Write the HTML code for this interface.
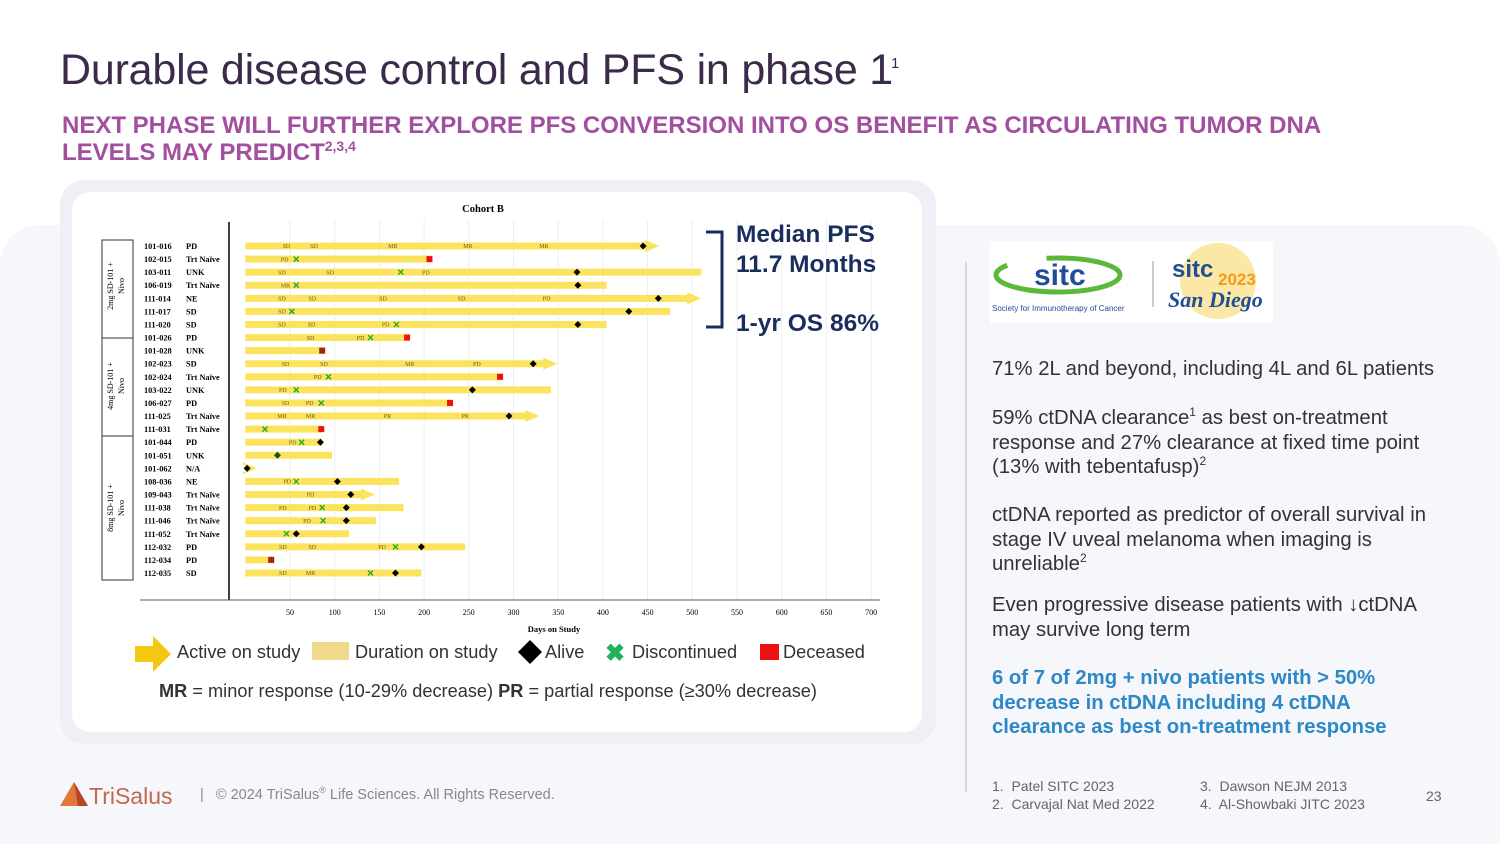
<!DOCTYPE html>
<html><head><meta charset="utf-8">
<style>
*{margin:0;padding:0;box-sizing:border-box}
body{width:1500px;height:844px;overflow:hidden;background:#fff;font-family:"Liberation Sans",Arial,sans-serif;position:relative}
.abs{position:absolute}
sup{line-height:0}
#bg{left:0;top:225px;width:1500px;height:619px;background:#f6f7fa;border-radius:40px 40px 0 0}
h1{position:absolute;left:60px;top:46px;font-size:43px;font-weight:400;color:#3b2a4a;letter-spacing:-0.2px}
h1 sup{font-size:15px;vertical-align:top;position:relative;top:18px;left:-2px}
#sub{left:62px;top:112px;font-size:24px;font-weight:700;color:#a24fa0;line-height:27px;width:1320px}
#sub sup{font-size:14px}
#outer{left:60px;top:180px;width:876px;height:564px;background:#eef0f5;border-radius:24px}
#inner{left:72px;top:192px;width:850px;height:540px;background:#fff;border-radius:18px}
.rt{left:992px;font-size:20.3px;color:#333;line-height:24.5px;width:448px}
.rt sup{font-size:12px}
#blue{color:#2d88c8;font-weight:700}
#div{left:965px;top:262px;width:2px;height:530px;background:#e3d0dc}
.ref{font-size:14px;color:#666;line-height:18px}
</style></head><body>
<div id="bg" class="abs"></div>
<h1>Durable disease control and PFS in phase 1<sup>1</sup></h1>
<div id="sub" class="abs">NEXT PHASE WILL FURTHER EXPLORE PFS CONVERSION INTO OS BENEFIT AS CIRCULATING TUMOR DNA LEVELS MAY PREDICT<sup>2,3,4</sup></div>
<div id="outer" class="abs"></div>
<div id="inner" class="abs"></div>

<svg class="abs" style="left:0;top:0" width="1500" height="844" id="chart" font-family="Liberation Serif, serif">
<text x="483" y="212" font-size="10.5" font-weight="bold" text-anchor="middle">Cohort B</text>
<g id="grid"></g><g id="marks"></g><g id="labels"></g>
<line x1="229" y1="222" x2="229" y2="600" stroke="#000" stroke-width="1.5"/>
<line x1="140" y1="600" x2="880" y2="600" stroke="#555" stroke-width="1"/>
<text x="554" y="632" font-size="8.5" font-weight="bold" text-anchor="middle">Days on Study</text>
<g fill="none" stroke="#333" stroke-width="1">
<rect x="102" y="240" width="31" height="340"/>
<line x1="102" y1="338" x2="133" y2="338"/><line x1="102" y1="436" x2="133" y2="436"/>
</g>
<text transform="translate(113,286) rotate(-90)" font-size="8" text-anchor="middle"><tspan x="0" dy="0">2mg SD-101 +</tspan><tspan x="0" dy="11">Nivo</tspan></text>
<text transform="translate(113,386) rotate(-90)" font-size="8" text-anchor="middle"><tspan x="0" dy="0">4mg SD-101 +</tspan><tspan x="0" dy="11">Nivo</tspan></text>
<text transform="translate(113,508) rotate(-90)" font-size="8" text-anchor="middle"><tspan x="0" dy="0">8mg SD-101 +</tspan><tspan x="0" dy="11">Nivo</tspan></text>
<g fill="none" stroke="#1a2e5e" stroke-width="3"><path d="M706 232 H722 V327 H706"/></g>
<text x="736" y="242" font-family="Liberation Sans, sans-serif" font-size="24.5" font-weight="bold" fill="#1a2e5e">Median PFS</text>
<text x="736" y="272" font-family="Liberation Sans, sans-serif" font-size="24.5" font-weight="bold" fill="#1a2e5e">11.7 Months</text>
<text x="736" y="331" font-family="Liberation Sans, sans-serif" font-size="24.5" font-weight="bold" fill="#1a2e5e">1-yr OS 86%</text>
<g font-family="Liberation Sans, sans-serif" font-size="18.2" fill="#333">
<path d="M135 646 H153 V636 L171 654 L153 672 V662 H135 Z" fill="#f4c712"/>
<text x="177" y="658">Active on study</text>
<rect x="312" y="642" width="37" height="18" fill="#f0d98a"/>
<text x="355" y="658">Duration on study</text>
<path d="M530 640 L542 652 L530 664 L518 652 Z" fill="#000"/>
<text x="545" y="658">Alive</text>
<text x="605" y="661" font-size="24" font-weight="bold" fill="#1eb35a">✖</text>
<text x="632" y="658">Discontinued</text>
<rect x="760" y="644" width="19" height="16" fill="#ee1111"/>
<text x="783" y="658">Deceased</text>
<text x="159" y="697"><tspan font-weight="bold">MR</tspan> = minor response (10-29% decrease) <tspan font-weight="bold">PR</tspan> = partial response (≥30% decrease)</text>
</g>
</svg>

<div class="abs" style="left:990px;top:241px;width:283px;height:82px;background:#fff">
<svg width="283" height="82">
<ellipse cx="68" cy="34" rx="62" ry="17" fill="none" stroke="#5cb83a" stroke-width="5" stroke-dasharray="150 40"/>
<text x="44" y="44" font-family="Liberation Sans,sans-serif" font-size="30" font-weight="bold" fill="#1f4e96">sitc</text>
<text x="2" y="70" font-family="Liberation Sans,sans-serif" font-size="8" fill="#1f4e96">Society for Immunotherapy of Cancer</text>
<line x1="163" y1="20" x2="163" y2="66" stroke="#bbb" stroke-width="1.5"/>
<circle cx="228" cy="40" r="38" fill="#fbe7a6"/>
<text x="182" y="36" font-family="Liberation Sans,sans-serif" font-size="24" font-weight="bold" fill="#1f4e96">sitc</text>
<text x="228" y="44" font-family="Liberation Sans,sans-serif" font-size="17" font-weight="bold" fill="#f29b1c">2023</text>
<text x="178" y="66" font-family="Liberation Serif,serif" font-style="italic" font-size="22" font-weight="bold" fill="#1f4e96">San Diego</text>
</svg></div>

<div id="div" class="abs"></div>
<div class="abs rt" style="top:357px;width:470px">71% 2L and beyond, including 4L and 6L patients</div>
<div class="abs rt" style="top:406px">59% ctDNA clearance<sup>1</sup> as best on-treatment response and 27% clearance at fixed time point (13% with tebentafusp)<sup>2</sup></div>
<div class="abs rt" style="top:503px">ctDNA reported as predictor of overall survival in stage IV uveal melanoma when imaging is unreliable<sup>2</sup></div>
<div class="abs rt" style="top:593px;width:440px">Even progressive disease patients with ↓ctDNA may survive long term</div>
<div class="abs rt" id="blue" style="top:666px;width:420px">6 of 7 of 2mg + nivo patients with &gt; 50% decrease in ctDNA including 4 ctDNA clearance as best on-treatment response</div>

<div class="abs ref" style="left:992px;top:777px">1.&nbsp; Patel SITC 2023<br>2.&nbsp; Carvajal Nat Med 2022</div>
<div class="abs ref" style="left:1200px;top:777px">3.&nbsp; Dawson NEJM 2013<br>4.&nbsp; Al-Showbaki JITC 2023</div>
<div class="abs ref" style="left:1426px;top:787px">23</div>

<svg class="abs" style="left:60px;top:780px" width="130" height="30">
<path d="M14 2 L28 26 L0 26 Z" fill="#e07a3a"/><path d="M14 2 L28 26 L18 26 Z" fill="#b8452a"/>
<text x="29" y="24" font-family="Liberation Sans,sans-serif" font-size="23" fill="#c3674f">TriSalus</text>
</svg>
<div class="abs" style="left:200px;top:787px;font-size:14.5px;color:#888">|&nbsp;&nbsp; © 2024 TriSalus<sup style="font-size:9px">®</sup> Life Sciences. All Rights Reserved.</div>

<script>
const patientIds=["101-016","102-015","103-011","106-019","111-014","111-017","111-020","101-026","101-028","102-023","102-024","103-022","106-027","111-025","111-031","101-044","101-051","101-062","108-036","109-043","111-038","111-046","111-052","112-032","112-034","112-035"];
const priorStatus=["PD","Trt Naïve","UNK","Trt Naïve","NE","SD","SD","PD","UNK","SD","Trt Naïve","UNK","PD","Trt Naïve","Trt Naïve","PD","UNK","N/A","NE","Trt Naïve","Trt Naïve","Trt Naïve","Trt Naïve","PD","PD","SD"];
const durationDays=[463,209,510,404,510,475,404,184,89,349,288,342,232,329,86,86,97,13,172,145,177,146,116,246,32,197];
const activeOnStudy=[1,0,0,0,1,0,0,0,0,1,0,0,0,1,0,0,0,1,0,1,0,0,0,0,0,0];
const responseLabels=[["SD","SD","MR","MR","MR"],["PD"],["SD","SD","PD"],["MR"],["SD","SD","SD","SD","PD"],["SD"],["SD","SD","PD"],["SD","PD"],[],["SD","SD","MR","PD"],["PD"],["PD"],["SD","PD"],["MR","MR","PR","PR"],[],["PD"],[],[],["PD"],["PD"],["PD","PD"],["PD"],[],["SD","SD","PD"],[],["SD","MR"]];
const responseDays=[[46,77,165,249,334],[44],[41,95,202],[45],[41,75,154,242,337],[41],[41,74,157],[73,129],[],[45,88,184,259],[81],[42],[45,72],[41,73,159,246],[],[53],[],[],[47],[73],[42,75],[69],[],[42,75,153],[],[42,73]];
const discontinuedDay=[null,57,174,57,null,52,169,140,null,null,93,57,85,null,22,63,null,null,57,null,86,87,46,168,null,140];
const aliveDay=[445,null,371,372,462,429,372,null,null,322,null,254,null,295,null,84,36,2,103,118,113,113,57,197,null,168];
const deceasedDay=[null,206,null,null,null,null,null,181,86,null,285,null,229,null,85,null,null,null,null,null,null,null,null,null,29,null];
const xTicks=[50,100,150,200,250,300,350,400,450,500,550,600,650,700];

const NS="http://www.w3.org/2000/svg";
const x0=245.3,pxPerDay=0.894;
function xs(d){return x0+d*pxPerDay;}
function ys(i){return 246+i*13.08;}
function mk(tag,attrs,parent){const e=document.createElementNS(NS,tag);for(const k in attrs)e.setAttribute(k,attrs[k]);parent.appendChild(e);return e;}
const grid=document.getElementById('grid'),marks=document.getElementById('marks'),labels=document.getElementById('labels');
xTicks.forEach(t=>{
  const l=mk('line',{x1:xs(t),x2:xs(t),y1:220,y2:600,stroke:'#eee','stroke-width':1},grid);
  
  
  const tx=mk('text',{x:xs(t),y:615,'font-size':8,'text-anchor':'middle'},grid);
  tx.textContent=t;
  
  
});
patientIds.forEach((id,i)=>{
  const y=ys(i);
  const a=mk('text',{x:144,y:y+3,'font-size':8.3,'font-weight':'bold'},labels);a.textContent=id;
  
  
  const b=mk('text',{x:186,y:y+3,'font-size':8.3,'font-weight':'bold'},labels);b.textContent=priorStatus[i];
  
  
  const end=durationDays[i];
  let bar;
  if(activeOnStudy[i]){
    const tip=xs(end),bs=tip-14;
    bar=mk('path',{d:`M${xs(0)} ${y-3.5} H${bs} V${y-6} L${tip} ${y} L${bs} ${y+6} V${y+3.5} H${xs(0)} Z`,fill:'#fbe35e'},marks);
  } else {
    bar=mk('rect',{x:xs(0),y:y-3.5,width:xs(end)-xs(0),height:7,fill:'#fbe35e'},marks);
  }
  
  
  responseLabels[i].forEach((lab,j)=>{
    const t=mk('text',{x:xs(responseDays[i][j]),y:y+2.2,'font-size':6,'text-anchor':'middle',fill:'#6b5c1e'},marks);t.textContent=lab;
    
    
  });
  if(discontinuedDay[i]!=null){
    const cx=xs(discontinuedDay[i]);
    const g=mk('path',{d:`M${cx-2.5} ${y-2.5} L${cx+2.5} ${y+2.5} M${cx+2.5} ${y-2.5} L${cx-2.5} ${y+2.5}`,stroke:'#2aa82a','stroke-width':1.4},marks);
    
    
  }
  if(deceasedDay[i]!=null){
    const cx=xs(deceasedDay[i]);
    const r=mk('rect',{x:cx-3,y:y-3,width:6,height:6,fill:(i==8||i==24)?'#9b2a14':'#ee1111'},marks);
    
    
  }
  if(aliveDay[i]!=null){
    const cx=xs(aliveDay[i]);
    const d=mk('path',{d:`M${cx} ${y-3.5} L${cx+3.5} ${y} L${cx} ${y+3.5} L${cx-3.5} ${y} Z`,fill:i==16?'#1d4a1d':'#000'},marks);
    
    
  }
});
</script>
</body></html>
